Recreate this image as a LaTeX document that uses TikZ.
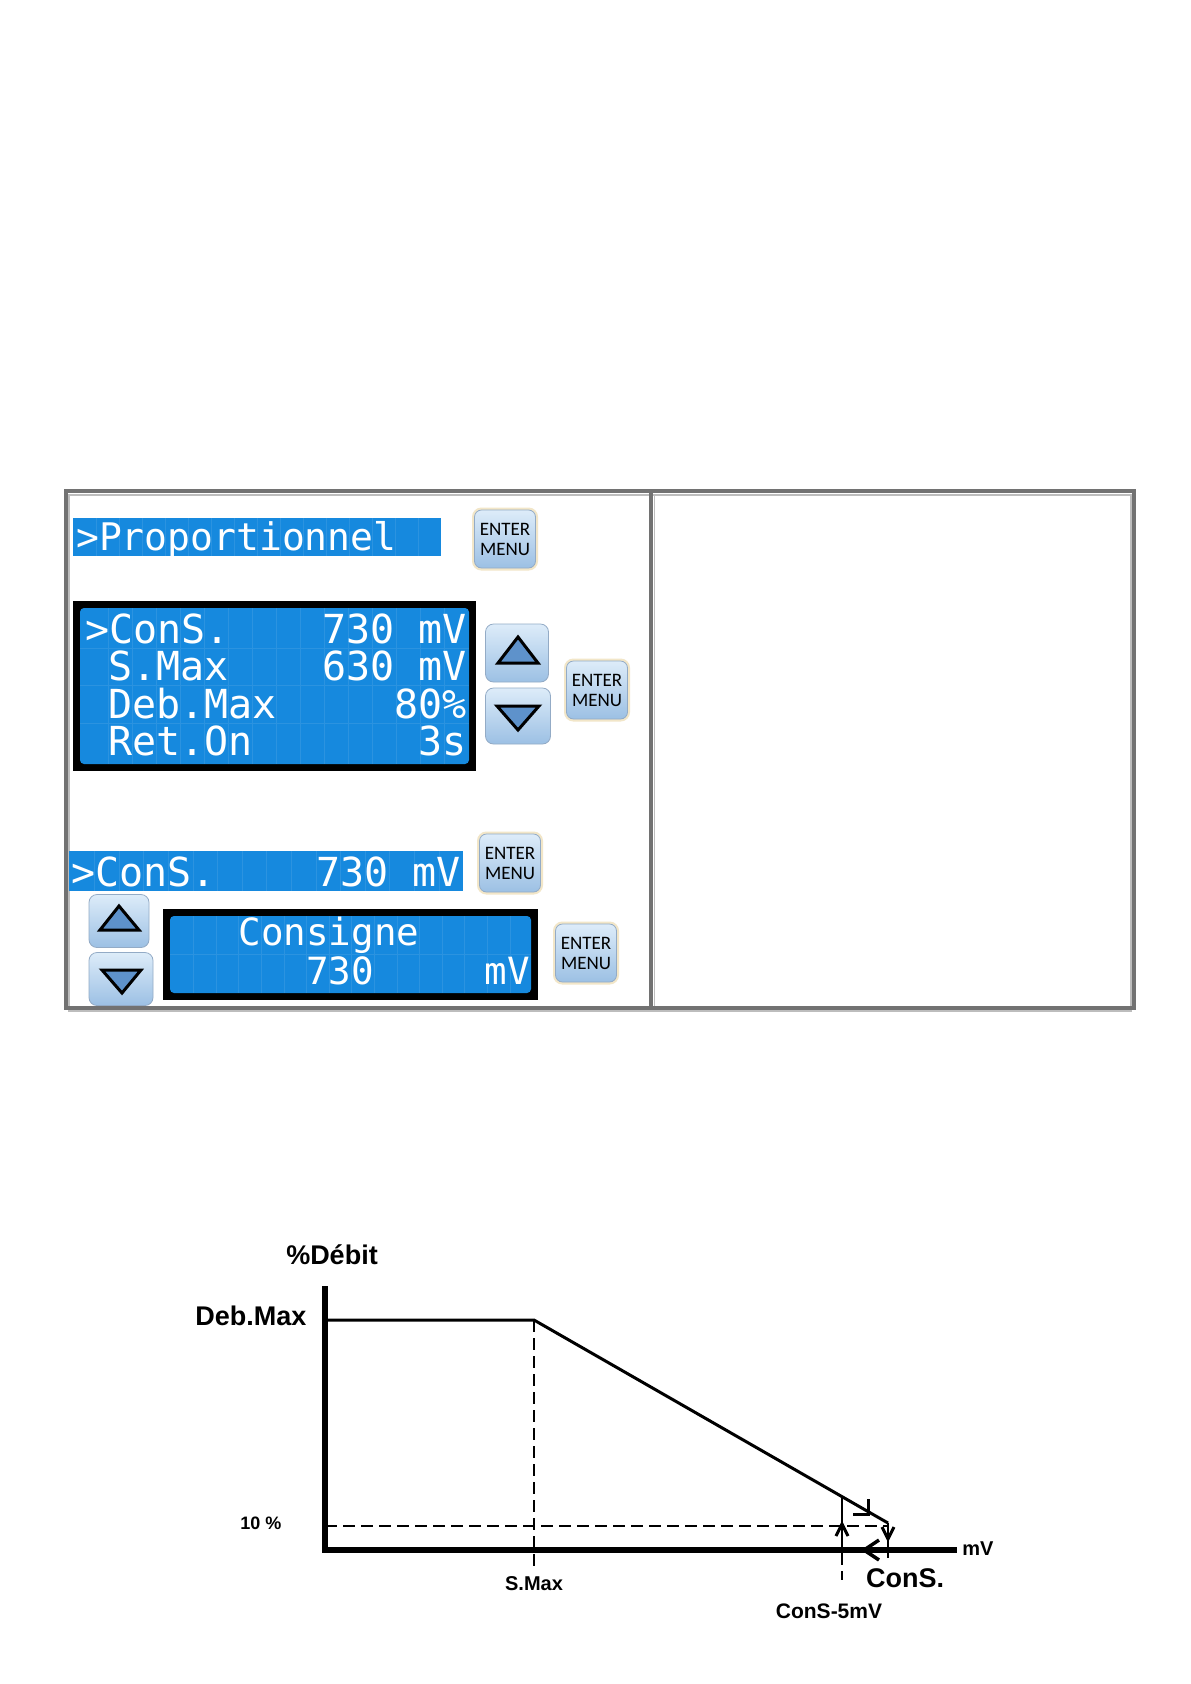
\documentclass[tikz,border=0pt]{standalone}
\usepackage{fontspec}
\newfontfamily\lcdfont{DejaVu Sans Mono}
\newfontfamily\btnfont{Carlito}
\newfontfamily\grfont{Liberation Sans}
\definecolor{lcdblue}{HTML}{1689DE}
\definecolor{lcdgrid}{HTML}{2B93E0}
\definecolor{framegray}{HTML}{727272}
\definecolor{framelight}{HTML}{BDBDBD}
\definecolor{halo}{HTML}{F2E6C8}
\definecolor{btntop}{HTML}{DDECF9}
\definecolor{btnbot}{HTML}{9CC0E4}
\definecolor{btnedge}{HTML}{93ABC6}
\definecolor{trifill}{HTML}{5E92CB}
\tikzset{
  enterbtn/.style={rectangle, rounded corners=7pt, draw=btnedge, line width=0.8pt,
    top color=btntop, bottom color=btnbot, preaction={draw=halo, line width=5pt},
    minimum width=61pt, minimum height=58pt, inner sep=0pt, align=center,
    font=\btnfont\fontsize{19}{20}\selectfont},
  arrowbtn/.style={rectangle, rounded corners=8pt, draw=btnedge, line width=0.8pt,
    top color=btntop, bottom color=btnbot, inner sep=0pt},
  tri/.style={fill=trifill, draw=black, line width=3pt, line join=miter},
  lcdtext/.style={text=white, inner sep=0pt, font=\lcdfont\fontsize{40}{40}\selectfont},
  lcdsmall/.style={text=white, inner sep=0pt, font=\lcdfont\fontsize{37.5}{38}\selectfont},
  gridline/.style={draw=lcdgrid, line width=0.8pt},
  curve/.style={line width=3pt, line join=miter},
  thinv/.style={line width=2.5pt},
  headline/.style={line width=3pt, line join=miter},
  dashline/.style={line width=1.2pt, dash pattern=on 12pt off 6pt},
  glabel/.style={inner sep=0pt, font=\grfont\bfseries},
}
\begin{document}
\begin{tikzpicture}[x=1pt,y=-1pt]
\useasboundingbox (0,0) rectangle (1191,1684);
\fill[white] (0,0) rectangle (1191,1684);

% ---------- frame ----------
\draw[framelight, line width=1.5pt] (69,495) rectangle (1131,1011);
\draw[framelight, line width=1.5pt] (654.5,495) -- (654.5,1006);
\draw[framegray, line width=4pt] (66,491) rectangle (1134,1008);
\draw[framegray, line width=4pt] (651,491) -- (651,1008);

% ---------- Proportionnel bar ----------
\fill[lcdblue] (73,518) rectangle (441,556);
\foreach \i in {1,...,15} \draw[gridline] ({73+\i*23},518) -- ({73+\i*23},556);
\node[lcdtext, font=\lcdfont\fontsize{38}{38}\selectfont, anchor=base west] (ptxt) at (76,550) {>Proportionnel};
\node[enterbtn] (b1) at (505,539) {ENTER\\MENU};

% ---------- big LCD ----------
\fill[black] (73,601) rectangle (476,771);
\fill[lcdblue, rounded corners=4pt] (80,608) rectangle (469,764);
\begin{scope}
\clip (80,608) rectangle (469,764);
\foreach \i in {1,...,15} \draw[gridline] ({84+\i*24},608) -- ({84+\i*24},764);
\foreach \y in {648,685,723} \draw[gridline] (80,\y) -- (469,\y);
\end{scope}
\node[lcdtext, anchor=base west] (r1l) at (85,643) {>ConS.};
\node[lcdtext, anchor=base east] (r1r) at (467,643) {730 mV};
\node[lcdtext, anchor=base west] (r2l) at (108,680) {S.Max};
\node[lcdtext, anchor=base east] (r2r) at (467,680) {630 mV};
\node[lcdtext, anchor=base west] (r3l) at (108,718) {Deb.Max};
\node[lcdtext, anchor=base east] (r3r) at (467,718) {80\%};
\node[lcdtext, anchor=base west] (r4l) at (108,755) {Ret.On};
\node[lcdtext, anchor=base east] (r4r) at (467,755) {3s};

\node[arrowbtn, minimum width=63pt, minimum height=58pt] (up1) at (517,653) {};
\draw[tri] (518,637) -- (538,663) -- (498,663) -- cycle;
\node[arrowbtn, minimum width=65pt, minimum height=56pt] (dn1) at (518,716) {};
\draw[tri] (497,706) -- (539,706) -- (518,730) -- cycle;
\node[enterbtn] (b2) at (597,690) {ENTER\\MENU};

% ---------- ConS bar ----------
\fill[lcdblue] (69,851) rectangle (463,891);
\foreach \i in {1,...,15} \draw[gridline] ({70+\i*24.6},851) -- ({70+\i*24.6},891);
\node[lcdtext, anchor=base west] (c1l) at (71,886) {>ConS.};
\node[lcdtext, anchor=base east] (c1r) at (461,886) {730 mV};
\node[enterbtn] (b3) at (510,863) {ENTER\\MENU};

% ---------- Consigne LCD ----------
\node[arrowbtn, minimum width=60pt, minimum height=53pt] (up2) at (119,921) {};
\draw[tri] (119,906) -- (139,930) -- (100,930) -- cycle;
\node[arrowbtn, minimum width=64pt, minimum height=53pt] (dn2) at (121,979) {};
\draw[tri] (102,970) -- (141,970) -- (122,993) -- cycle;

\fill[black] (163,909) rectangle (538,1000);
\fill[lcdblue, rounded corners=4pt] (170,916) rectangle (531,993);
\begin{scope}
\clip (170,916) rectangle (531,993);
\foreach \i in {1,...,15} \draw[gridline] ({171+\i*22.6},916) -- ({171+\i*22.6},993);
\draw[gridline] (170,954) -- (531,954);
\end{scope}
\node[lcdsmall, anchor=base] (cs1) at (329,945) {Consigne};
\node[lcdsmall, anchor=base west] (cs2) at (306,984) {730};
\node[lcdsmall, anchor=base east] (cs3) at (530,984) {mV};
\node[enterbtn] (b4) at (586,953) {ENTER\\MENU};

% ---------- graph ----------
\coordinate (ytop) at (325,1286);
\coordinate (org) at (325,1550);
\coordinate (xend) at (957,1550);
\coordinate (dm) at (325,1320);
\coordinate (sm) at (534,1320);
\coordinate (cm) at (888,1523);
\coordinate (c5) at (842,1497);

\draw[dashline] (325,1526) -- (888,1526);
\draw[dashline] (sm) -- (534,1566);
\draw[dashline] (842,1553) -- (842,1580);
\draw[line width=1.2pt] (888,1553) -- (888,1558);

\draw[line width=5.5pt, line join=miter] (ytop) -- (325,1553);
\draw[line width=6pt] (322,1550) -- (xend);
\draw[curve] (dm) -- (sm) -- (cm);
\draw[thinv] (842,1550) -- (c5);
\draw[thinv] (cm) -- (888,1550);

% arrowheads of the hysteresis loop
\draw[headline] (868,1499) -- (868,1514) -- (853,1514);
\draw[headline] (882,1527) -- (888,1539) -- (894,1527);
\draw[line width=3.5pt, line join=miter] (879,1540) -- (864,1550) -- (879,1560);
\draw[headline] (836,1536) -- (842,1524) -- (848,1536);

\node[glabel, font=\grfont\bfseries\fontsize{27}{27}\selectfont] (lbdeb) at (332,1255) {\%Débit};
\node[glabel, font=\grfont\bfseries\fontsize{27}{27}\selectfont] (lbmax) at (251,1316) {Deb.Max};
\node[glabel, font=\grfont\bfseries\fontsize{18}{18}\selectfont] (lb10) at (261,1523) {10 \%};
\node[glabel, font=\grfont\bfseries\fontsize{20}{20}\selectfont] (lbsm) at (534,1584) {S.Max};
\node[glabel, font=\grfont\bfseries\fontsize{20}{20}\selectfont] (lbmv) at (978,1549) {mV};
\node[glabel, font=\grfont\bfseries\fontsize{27}{27}\selectfont] (lbcs) at (905,1578) {ConS.};
\node[glabel, font=\grfont\bfseries\fontsize{21}{21}\selectfont] (lbc5) at (829,1611) {ConS-5mV};
\end{tikzpicture}
\end{document}
